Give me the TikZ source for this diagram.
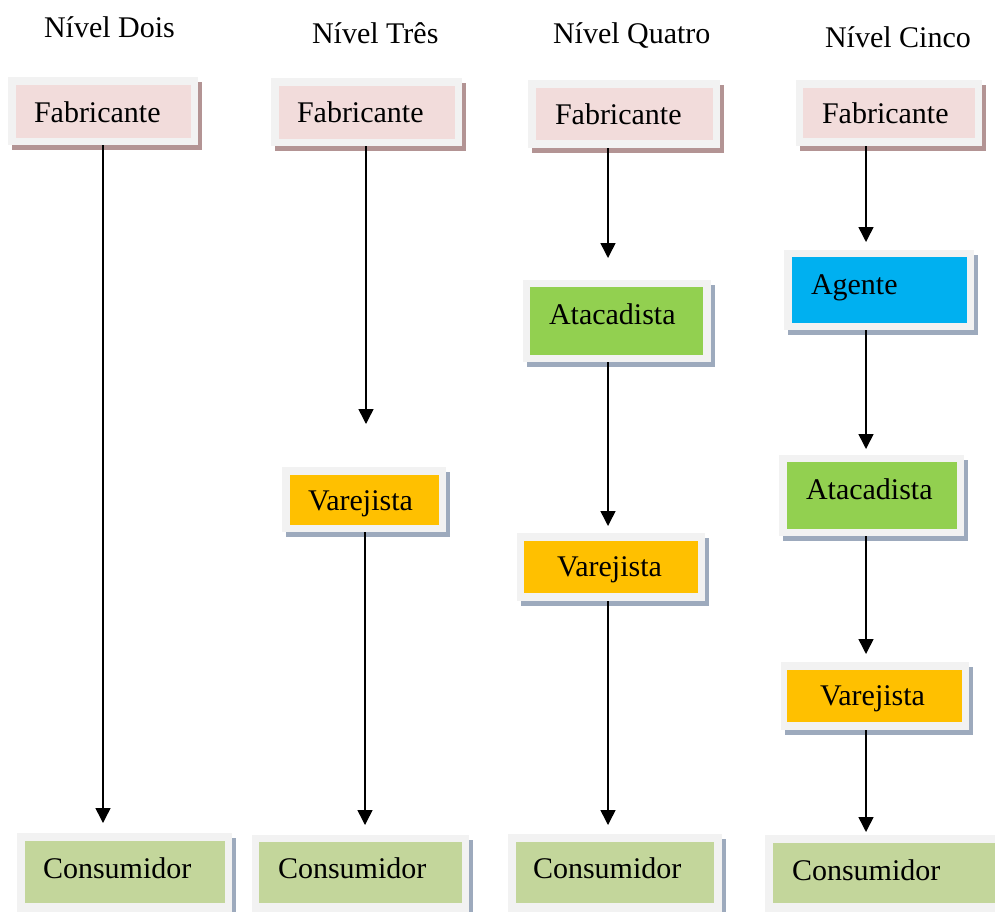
\documentclass[tikz,border=0pt]{standalone}
\usepackage{fontspec}
\setmainfont{Liberation Serif}
\usetikzlibrary{fit,shadows,arrows.meta}
\definecolor{framegray}{HTML}{F2F2F2}
\definecolor{pinkfill}{HTML}{F2DCDB}
\definecolor{pinkshadow}{HTML}{B39494}
\definecolor{blueshadow}{HTML}{9DAABD}
\definecolor{greenfill}{HTML}{92D050}
\definecolor{orangefill}{HTML}{FFC000}
\definecolor{bluefill}{HTML}{00B0F0}
\definecolor{consfill}{HTML}{C3D69B}
\tikzset{
  frame/.style={fill=framegray, draw=none, inner sep=0pt, outer sep=0pt,
    general shadow={fill=#1, shadow xshift=3.5pt, shadow yshift=-5pt}},
  innerbox/.style={fill=#1, draw=none, inner sep=0pt, outer sep=0pt},
  lbl/.style={anchor=base west, inner sep=0pt, outer sep=0pt, font=\fontsize{30}{36}\selectfont},
  conn/.style={line width=1.5pt, -{Triangle[width=15pt,length=15pt]}}
}
\begin{document}
\begin{tikzpicture}[x=1pt,y=-1pt]
\useasboundingbox (0,0) rectangle (995,911);
\fill[white] (0,0) rectangle (995,911);

% titles
\node[lbl] (h1) at (44,37) {Nível Dois};
\node[lbl] (h2) at (312,43) {Nível Três};
\node[lbl] (h3) at (553,43) {Nível Quatro};
\node[lbl] (h4) at (825,47) {Nível Cinco};

% column 1
\node (f1o) [frame=pinkshadow, fit={(8,77) (198,145)}] {};
\node (f1) [innerbox=pinkfill, fit={(16,85) (191,138)}] {};
\node[lbl] (f1t) at (34,122) {Fabricante};
\node (c1o) [frame=blueshadow, fit={(17,833) (232,918)}] {};
\node (c1) [innerbox=consfill, fit={(25,841) (225,903)}] {};
\node[lbl] (c1t) at (43,878) {Consumidor};

% column 2
\node (f2o) [frame=pinkshadow, fit={(271,78) (462,146)}] {};
\node (f2) [innerbox=pinkfill, fit={(279,86) (455,139)}] {};
\node[lbl] (f2t) at (297,122) {Fabricante};
\node (v2o) [frame=blueshadow, fit={(282,467) (446,532)}] {};
\node (v2) [innerbox=orangefill, fit={(290,475) (439,525)}] {};
\node[lbl] (v2t) at (308,510) {Varejista};
\node (c2o) [frame=blueshadow, fit={(252,835) (469,918)}] {};
\node (c2) [innerbox=consfill, fit={(259,842) (462,903)}] {};
\node[lbl] (c2t) at (278,878) {Consumidor};

% column 3
\node (f3o) [frame=pinkshadow, fit={(528,80) (720,148)}] {};
\node (f3) [innerbox=pinkfill, fit={(536,88) (713,140)}] {};
\node[lbl] (f3t) at (555,124) {Fabricante};
\node (a3o) [frame=blueshadow, fit={(523,280) (711,362)}] {};
\node (a3) [innerbox=greenfill, fit={(530,287) (703,355)}] {};
\node[lbl] (a3t) at (549,324) {Atacadista};
\node (v3o) [frame=blueshadow, fit={(517,533) (705,601)}] {};
\node (v3) [innerbox=orangefill, fit={(524,541) (698,593)}] {};
\node[lbl] (v3t) at (557,576) {Varejista};
\node (c3o) [frame=blueshadow, fit={(508,834) (722,918)}] {};
\node (c3) [innerbox=consfill, fit={(516,842) (714,903)}] {};
\node[lbl] (c3t) at (533,878) {Consumidor};

% column 4
\node (f4o) [frame=pinkshadow, fit={(796,80) (982,146)}] {};
\node (f4) [innerbox=pinkfill, fit={(803,88) (975,138)}] {};
\node[lbl] (f4t) at (822,123) {Fabricante};
\node (g4o) [frame=blueshadow, fit={(784,250) (974,330)}] {};
\node (g4) [innerbox=bluefill, fit={(792,257) (967,323)}] {};
\node[lbl] (g4t) at (811,294) {Agente};
\node (a4o) [frame=blueshadow, fit={(779,455) (964,536)}] {};
\node (a4) [innerbox=greenfill, fit={(787,462) (957,529)}] {};
\node[lbl] (a4t) at (806,499) {Atacadista};
\node (v4o) [frame=blueshadow, fit={(781,662) (969,730)}] {};
\node (v4) [innerbox=orangefill, fit={(787,670) (962,722)}] {};
\node[lbl] (v4t) at (820,705) {Varejista};
\node (c4o) [frame=blueshadow, fit={(765,835) (1000,918)}] {};
\node (c4) [innerbox=consfill, fit={(773,843) (1000,903)}] {};
\node[lbl] (c4t) at (792,880) {Consumidor};

% arrow ends
\coordinate (t1) at (103,823);
\coordinate (t21) at (366,424);
\coordinate (t22) at (365,825);
\coordinate (t31) at (608,258);
\coordinate (t32) at (608,526);
\coordinate (t33) at (608,825);
\coordinate (t41) at (866,242);
\coordinate (t42) at (866,449);
\coordinate (t43) at (866,654);
\coordinate (t44) at (866,832);

% connectors
\draw[conn] (f1o.south -| t1) -- (t1);
\draw[conn] (f2o.south -| t21) -- (t21);
\draw[conn] (v2o.south -| t22) -- (t22);
\draw[conn] (f3o.south -| t31) -- (t31);
\draw[conn] (a3o.south -| t32) -- (t32);
\draw[conn] (v3o.south -| t33) -- (t33);
\draw[conn] (f4o.south -| t41) -- (t41);
\draw[conn] (g4o.south -| t42) -- (t42);
\draw[conn] (a4o.south -| t43) -- (t43);
\draw[conn] (v4o.south -| t44) -- (t44);
\end{tikzpicture}
\end{document}
